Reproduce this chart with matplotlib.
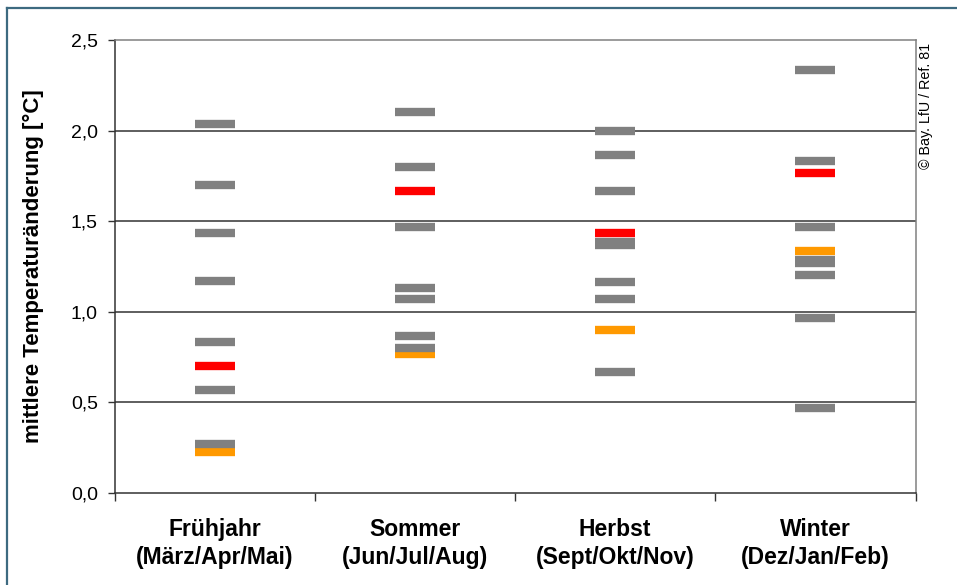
import matplotlib
matplotlib.use("Agg")
import matplotlib.pyplot as plt
from matplotlib.lines import Line2D
from matplotlib.ticker import FixedLocator, FuncFormatter

plt.rcParams['font.family'] = ['Liberation Sans', 'DejaVu Sans']

# Jahreszeiten
jahreszeiten = ['Frühjahr\n(März/Apr/Mai)', 'Sommer\n(Jun/Jul/Aug)',
                'Herbst\n(Sept/Okt/Nov)', 'Winter\n(Dez/Jan/Feb)']

# einzelne Modellläufe (grau)
grau_fruehjahr = [2.036, 1.70, 1.434, 1.168, 0.835, 0.568, 0.270]
grau_sommer = [2.101, 1.801, 1.466, 1.134, 1.069, 0.867, 0.802]
grau_herbst = [2.0, 1.867, 1.668, 1.387, 1.368, 1.167, 1.068, 0.668]
grau_winter = [2.335, 1.834, 1.467, 1.287, 1.268, 1.202, 0.967, 0.467]

# Mittelwert (rot) und hervorgehobener Lauf (orange)
rot = [0.702, 1.667, 1.434, 1.767]
orange = [0.227, 0.767, 0.900, 1.335]

grau = [grau_fruehjahr, grau_sommer, grau_herbst, grau_winter]

fig = plt.figure(figsize=(9.57, 5.85), dpi=100)
ax = fig.add_axes([114.5 / 957, 1 - 493 / 585, 801 / 957, 453 / 585])

halb = 0.1
dicke = 6
for i in range(len(jahreszeiten)):
    x = i + 0.5
    ax.hlines(orange[i], x - halb, x + halb, color='#ff9900', lw=dicke, zorder=3)
    ax.hlines(grau[i], x - halb, x + halb, color='#808080', lw=dicke, zorder=4)
    ax.hlines(rot[i], x - halb, x + halb, color='#ff0000', lw=dicke, zorder=5)

ax.set_xlim(0, 4)
ax.set_ylim(0, 2.5)

for y in [0.5, 1.0, 1.5, 2.0]:
    ax.axhline(y, color='#333333', lw=1.1, zorder=1)

ax.yaxis.set_major_locator(FixedLocator([0, 0.5, 1.0, 1.5, 2.0, 2.5]))
ax.yaxis.set_major_formatter(FuncFormatter(lambda v, p: f"{v:.1f}".replace('.', ',')))
ax.tick_params(axis='y', labelsize=14, length=5, width=1, pad=7, color='#333333')

ax.xaxis.set_major_locator(FixedLocator([0, 1, 2, 3, 4]))
ax.xaxis.set_major_formatter(FuncFormatter(lambda v, p: ''))
ax.xaxis.set_minor_locator(FixedLocator([0.5, 1.5, 2.5, 3.5]))
ax.set_xticklabels(jahreszeiten, minor=True, fontsize=16.5, fontweight='bold',
                   linespacing=1.3)
ax.tick_params(axis='x', which='major', length=6, width=1, color='#333333')
ax.tick_params(axis='x', which='minor', length=0, pad=18)

for s in ['left', 'bottom']:
    ax.spines[s].set_color('#333333')
    ax.spines[s].set_linewidth(1.1)
for s in ['top', 'right']:
    ax.spines[s].set_color('#808080')
    ax.spines[s].set_linewidth(1.1)

ax.set_ylabel('mittlere Temperaturänderung [°C]', fontsize=16,
              fontweight='bold', labelpad=19)

fig.text(926 / 957, 1 - 43 / 585, '© Bay. LfU / Ref. 81', rotation=90,
         ha='center', va='top', fontsize=10.3)

# Rahmen
rahmen = '#3d6a80'
fig.add_artist(Line2D([7.5 / 957, 7.5 / 957], [0, 1 - 7.5 / 585],
                      transform=fig.transFigure, color=rahmen, lw=1.6))
fig.add_artist(Line2D([7.5 / 957, 1], [1 - 7.5 / 585, 1 - 7.5 / 585],
                      transform=fig.transFigure, color=rahmen, lw=1.6))

fig.savefig('out.png', dpi=100)
